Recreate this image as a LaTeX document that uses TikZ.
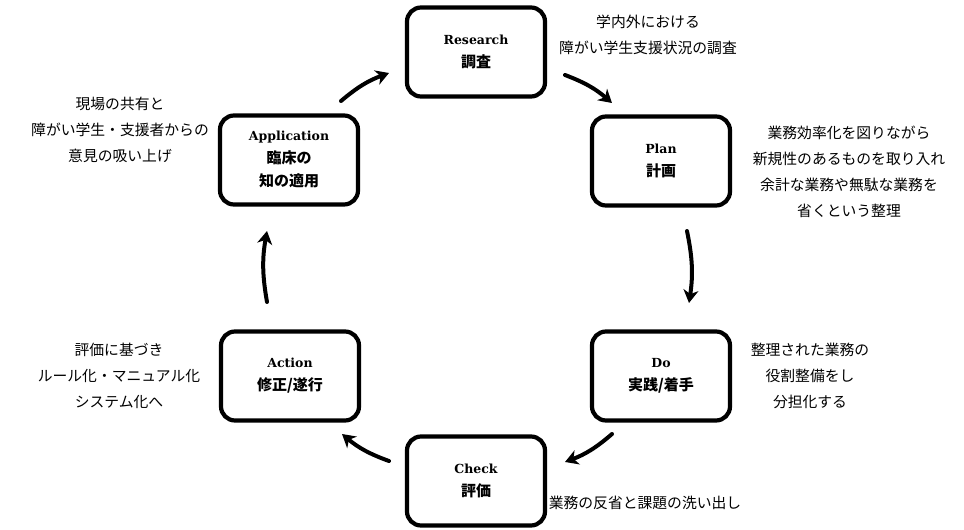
\documentclass[tikz,border=0pt]{standalone}
\usepackage{fontspec}
\newfontfamily\lab{DejaVu Serif}
\newfontfamily\jp{Noto Sans CJK JP}
\usetikzlibrary{arrows.meta}
\tikzset{
  phase/.style={draw=black, line width=4.2pt, rounded corners=14pt, minimum width=138pt, minimum height=89pt, inner sep=0pt, align=center, fill=white, font=\fontsize{12.5}{23}\selectfont},
  note/.style={align=center, inner sep=0pt, font=\jp\fontsize{14.8}{26}\selectfont},
  cyc/.style={line width=4pt, line cap=round, -{Stealth[length=13pt,width=15pt,inset=4pt]}, bend left=10}
}
\newcommand{\en}[1]{{\lab\bfseries #1}}
\newcommand{\ja}[1]{{\jp\bfseries\fontsize{15}{23}\selectfont #1}}
\begin{document}
\begin{tikzpicture}[x=1pt,y=-1pt]
\useasboundingbox (0,0) rectangle (964,530);
\node[phase] (research) at (476,52) {\en{Research}\\\ja{調査}};
\node[phase] (plan) at (661,161) {\en{Plan}\\\ja{計画}};
\node[phase] (do) at (661,376) {\en{Do}\\\ja{実践/着手}};
\node[phase] (check) at (476,481) {\en{Check}\\\ja{評価}};
\node[phase] (action) at (290,376) {\en{Action}\\\ja{修正/遂行}};
\node[phase] (app) at (289,160) {\en{Application}\\\ja{臨床の}\\\ja{知の適用}};

\node[note] (nres) at (648,35) {学内外における\\障がい学生支援状況の調査};
\node[note] (nplan) at (849,172) {業務効率化を図りながら\\新規性のあるものを取り入れ\\余計な業務や無駄な業務を\\省くという整理};
\node[note] (napp) at (120,130) {現場の共有と\\障がい学生・支援者からの\\意見の吸い上げ};
\node[note] (ndo) at (810,376) {整理された業務の\\役割整備をし\\分担化する};
\node[note] (ncheck) at (645,503) {業務の反省と課題の洗い出し};
\node[note] (naction) at (119,376) {評価に基づき\\ルール化・マニュアル化\\システム化へ};

\coordinate (a1s) at (341,101); \coordinate (a1e) at (389,73);
\coordinate (a2s) at (565,75);  \coordinate (a2e) at (612,103);
\coordinate (a3s) at (687,231); \coordinate (a3e) at (689,303);
\coordinate (a4s) at (612,434); \coordinate (a4e) at (565,462);
\coordinate (a5s) at (389,461); \coordinate (a5e) at (342,434);
\coordinate (a6s) at (267,302); \coordinate (a6e) at (267,231);
\draw[cyc] (a1s) to (a1e);
\draw[cyc] (a2s) to (a2e);
\draw[cyc] (a3s) to (a3e);
\draw[cyc] (a4s) to (a4e);
\draw[cyc] (a5s) to (a5e);
\draw[cyc] (a6s) to (a6e);
\end{tikzpicture}
\end{document}
